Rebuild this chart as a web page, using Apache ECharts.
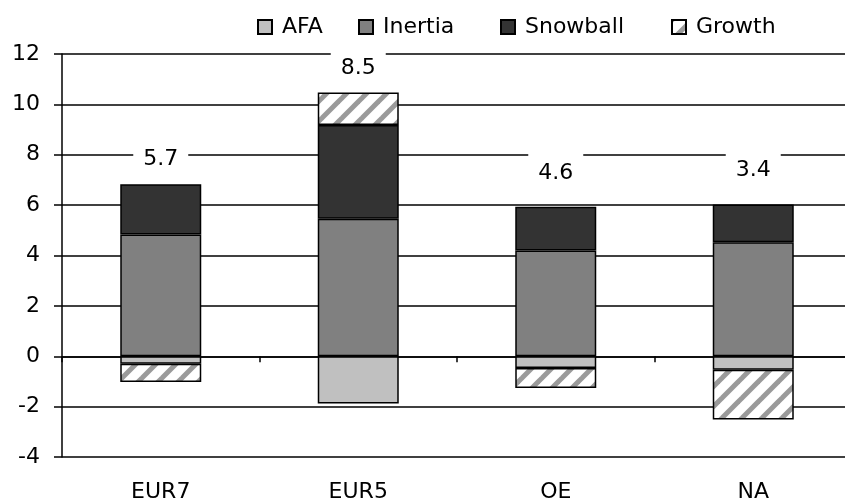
<!DOCTYPE html>
<html>
<head>
<meta charset="utf-8">
<script src="https://cdn.jsdelivr.net/npm/echarts@6/dist/echarts.min.js"></script>
<style>
html,body{margin:0;padding:0;background:#fff;}
#chart{width:845px;height:503px;}
</style>
</head>
<body>
<div id="chart"></div>
<script>
var categories = ['EUR7', 'EUR5', 'OE', 'NA'];
var seriesNames = ['AFA', 'Inertia', 'Snowball', 'Growth'];
var afa      = [-0.30, -1.88, -0.47, -0.54];
var inertia  = [4.83, 5.46, 4.20, 4.53];
var snowball = [2.00, 3.72, 1.74, 1.49];
var growth   = [-0.72, 1.29, -0.79, -1.97];
var totals   = ['5.7', '8.5', '4.6', '3.4'];
var yTicks   = [-4, -2, 0, 2, 4, 6, 8, 10, 12];

var FONT = 'DejaVu Sans';

// hatch pattern for Growth
function makeHatch() {
  var c = document.createElement('canvas');
  var s = 20;
  c.width = s; c.height = s;
  var g = c.getContext('2d');
  g.fillStyle = '#ffffff';
  g.fillRect(0, 0, s, s);
  g.strokeStyle = '#9a9a9a';
  g.lineWidth = 5;
  g.lineCap = 'square';
  for (var k = -1; k <= 1; k++) {
    g.beginPath();
    g.moveTo(k * s, s);
    g.lineTo(k * s + s, 0);
    g.stroke();
  }
  return c;
}
var hatch = makeHatch();

// stack top (sum of positives) per category, used to anchor total labels
var tops = categories.map(function (_, i) {
  var t = 0;
  [afa, inertia, snowball, growth].forEach(function (arr) { if (arr[i] > 0) t += arr[i]; });
  return t;
});
var labelDistance = [5, 4, 13, 14];
var legendLeft = [257, 358, 500, 671];

var chart = echarts.init(document.getElementById('chart'), null, { renderer: 'canvas' });

function barSeries(name, data, color) {
  return {
    name: name,
    type: 'bar',
    stack: 'total',
    xAxisIndex: 0,
    data: data,
    barWidth: 81,
    itemStyle: { color: color, borderColor: '#000', borderWidth: 1.5 },
    emphasis: { disabled: true },
    animation: false
  };
}

var legends = seriesNames.map(function (n, i) {
  return {
    data: [n],
    icon: 'rect',
    left: legendLeft[i],
    top: 16,
    itemWidth: 14,
    itemHeight: 14,
    padding: 0,
    textStyle: { fontFamily: FONT, fontSize: 22, color: '#000', padding: [0, 0, 0, 5] },
    selectedMode: false
  };
});

var option = {
  animation: false,
  textStyle: { fontFamily: FONT, color: '#000' },
  legend: legends,
  grid: { left: 62, right: -7, top: 54, bottom: 46, containLabel: false, outerBoundsMode: 'none' },
  xAxis: [
    {
      type: 'category',
      data: categories,
      position: 'bottom',
      axisLine: { show: false, onZero: false },
      axisTick: { show: false },
      axisLabel: { fontFamily: FONT, fontSize: 22, color: '#000', margin: 24 },
      splitLine: { show: false }
    },
    {
      type: 'category',
      data: categories,
      position: 'top',
      axisLine: { show: true, onZero: true, lineStyle: { color: '#000', width: 1.5 } },
      axisTick: { show: true, inside: true, length: 6, lineStyle: { color: '#000', width: 1.5 } },
      axisLabel: { show: false },
      splitLine: { show: false }
    }
  ],
  yAxis: {
    type: 'value',
    min: yTicks[0],
    max: yTicks[yTicks.length - 1],
    interval: 2,
    axisLine: { show: true, lineStyle: { color: '#000', width: 1.5 } },
    axisTick: { show: true, length: 8, lineStyle: { color: '#000', width: 1.5 } },
    axisLabel: { fontFamily: FONT, fontSize: 22, color: '#000', margin: 22 },
    splitLine: { show: true, lineStyle: { color: '#000', width: 1.5 } }
  },
  series: [
    barSeries('AFA', afa, '#c0c0c0'),
    barSeries('Inertia', inertia, '#808080'),
    barSeries('Snowball', snowball, '#333333'),
    barSeries('Growth', growth, { image: hatch, repeat: 'repeat' }),
    {
      name: 'Total',
      type: 'scatter',
      xAxisIndex: 0,
      symbolSize: 0,
      silent: true,
      z: 10,
      itemStyle: { opacity: 1 },
      data: tops.map(function (v, i) {
        return {
          value: v,
          label: {
            show: true,
            position: 'top',
            distance: labelDistance[i],
            formatter: totals[i],
            fontFamily: FONT,
            fontSize: 22,
            color: '#000',
            textBorderWidth: 0,
            backgroundColor: '#fff',
            padding: [9, 10]
          }
        };
      })
    }
  ]
};
chart.setOption(option);
</script>
</body>
</html>
